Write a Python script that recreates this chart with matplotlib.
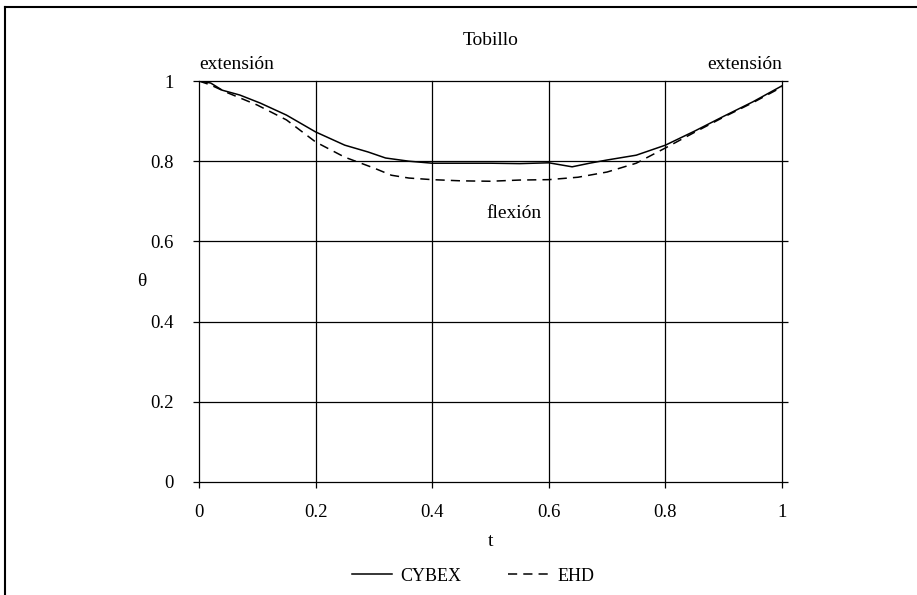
#Tobillo: normalised ankle angle vs time, CYBEX vs EHD
import matplotlib
matplotlib.use("Agg")
import matplotlib.pyplot as plt
from matplotlib.lines import Line2D

plt.rcParams['font.family'] = ['Liberation Serif', 'DejaVu Serif']

t_cybex = [0.0, 0.02, 0.04, 0.07, 0.105, 0.15, 0.2, 0.25, 0.29, 0.32, 0.36, 0.4,
           0.45, 0.5, 0.55, 0.6, 0.64, 0.67, 0.7, 0.75, 0.8, 0.85, 0.9, 0.95, 1.0]
cybex = [1.0, 0.995, 0.977, 0.965, 0.945, 0.915, 0.873, 0.84, 0.823, 0.808, 0.80, 0.795,
         0.795, 0.795, 0.794, 0.796, 0.786, 0.795, 0.803, 0.815, 0.84, 0.875, 0.912, 0.948, 0.988]

t_ehd = [0.0, 0.02, 0.05, 0.1, 0.15, 0.2, 0.25, 0.3, 0.33, 0.36, 0.4, 0.45, 0.5,
         0.55, 0.6, 0.65, 0.7, 0.75, 0.8, 0.85, 0.9, 0.95, 1.0]
ehd = [1.0, 0.99, 0.97, 0.94, 0.903, 0.848, 0.81, 0.783, 0.765, 0.758, 0.754, 0.751, 0.75,
       0.753, 0.754, 0.76, 0.773, 0.795, 0.833, 0.872, 0.91, 0.946, 0.985]

xticks = [0, 0.2, 0.4, 0.6, 0.8, 1]
xticklabels = ['0', '0.2', '0.4', '0.6', '0.8', '1']
yticks = [0, 0.2, 0.4, 0.6, 0.8, 1]
yticklabels = ['0', '0.2', '0.4', '0.6', '0.8', '1']

fig = plt.figure(figsize=(9.17, 5.95), dpi=100)
ax = fig.add_axes([199/917, 1 - 482/595, 583/917, 401/595])

ax.plot(t_cybex, cybex, color='black', lw=1.1, label='CYBEX')
ax.plot(t_ehd, ehd, color='black', lw=1.1, ls=(0, (6, 4)), label='EHD')

ax.set_xlim(0, 1)
ax.set_ylim(0, 1)
ax.set_xticks(xticks)
ax.set_xticklabels(xticklabels)
ax.set_yticks(yticks)
ax.set_yticklabels(yticklabels)
ax.grid(True, color='black', lw=0.9)
for gl in ax.get_xgridlines() + ax.get_ygridlines():
    gl.set_clip_on(False)
for s in ax.spines.values():
    s.set_visible(False)
ax.tick_params(direction='out', length=4.5, width=0.9, left=True, right=True,
               bottom=True, labelsize=13.5)
ax.tick_params(axis='x', pad=11)
ax.tick_params(axis='y', pad=14)

ax.set_title('Tobillo', fontsize=14, pad=26)
ax.set_xlabel('t', fontsize=14, labelpad=9)
ax.set_ylabel('θ', fontsize=14, rotation=0, labelpad=6, va='center')

ax.text(0, 1.02, 'extensión', fontsize=14, ha='left', va='bottom')
ax.text(1, 1.02, 'extensión', fontsize=14, ha='right', va='bottom')
ax.text(0.54, 0.67, 'flexión', fontsize=14, ha='center', va='center')

ax.legend(loc='center', bbox_to_anchor=(0.47, -0.235), ncol=2, frameon=False,
          fontsize=13, handlelength=2.2, columnspacing=2.6, handletextpad=0.5)

# frame round the figure: top and left only
fig.add_artist(Line2D([5/917, 5/917], [0, 1 - 7/595], color='black', lw=1.5))
fig.add_artist(Line2D([5/917, 1], [1 - 7/595, 1 - 7/595], color='black', lw=1.5))

fig.savefig('out.png', dpi=100)
